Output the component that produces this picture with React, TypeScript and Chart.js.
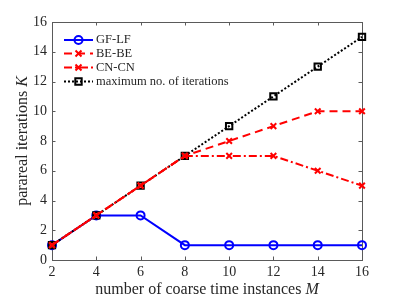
import React, { useEffect, useRef } from 'react';
import { Chart, registerables } from 'chart.js';
Chart.register(...registerables);

const M = [2, 4, 6, 8, 10, 12, 14, 16];
const gfLf = [1, 3, 3, 1, 1, 1, 1, 1];
const beBe = [1, 3, 5, 7, 8, 9, 10, 10];
const cnCn = [1, 3, 5, 7, 7, 7, 6, 5];
const maxIter = [1, 3, 5, 7, 9, 11, 13, 15];
const seriesNames = ['GF-LF', 'BE-BE', 'CN-CN', 'maximum no. of iterations'];
const xTickValues = [2, 4, 6, 8, 10, 12, 14, 16];
const yTickValues = [0, 2, 4, 6, 8, 10, 12, 14, 16];

const FONT = '"Liberation Serif", "DejaVu Serif", serif';
const AXIS = '#5a5a5a';
const TEXT = '#262626';

const styles = [
  { color: '#0000ff', dash: [] as number[], marker: 'circle' },
  { color: '#ff0000', dash: [8, 5], marker: 'crossRot' },
  { color: '#ff0000', dash: [8, 3, 2, 3], marker: 'crossRot' },
  { color: '#000000', dash: [2, 2], marker: 'rect' },
];

function drawMarker(ctx: CanvasRenderingContext2D, kind: string, x: number, y: number, color: string) {
  ctx.save();
  ctx.setLineDash([]);
  ctx.strokeStyle = color;
  ctx.lineWidth = 2;
  ctx.beginPath();
  if (kind === 'circle') {
    ctx.arc(x, y, 4, 0, Math.PI * 2);
  } else if (kind === 'crossRot') {
    const r = 3;
    ctx.moveTo(x - r, y - r); ctx.lineTo(x + r, y + r);
    ctx.moveTo(x + r, y - r); ctx.lineTo(x - r, y + r);
  } else {
    ctx.rect(x - 3.2, y - 3.2, 6.4, 6.4);
  }
  ctx.stroke();
  ctx.restore();
}

const framePlugin = {
  id: 'frame',
  beforeDatasetsDraw(chart: any) {
    const { ctx, chartArea: a, scales } = chart;
    ctx.save();
    ctx.strokeStyle = AXIS;
    ctx.lineWidth = 1;
    ctx.setLineDash([]);
    ctx.strokeRect(Math.round(a.left) + 0.5, Math.round(a.top) + 0.5, Math.round(a.right - a.left), Math.round(a.bottom - a.top));
    ctx.beginPath();
    const tl = 3.5;
    xTickValues.forEach((v) => {
      const px = Math.round(scales.x.getPixelForValue(v)) + 0.5;
      ctx.moveTo(px, a.bottom); ctx.lineTo(px, a.bottom - tl);
      ctx.moveTo(px, a.top); ctx.lineTo(px, a.top + tl);
    });
    yTickValues.forEach((v) => {
      const py = Math.round(scales.y.getPixelForValue(v)) + 0.5;
      ctx.moveTo(a.left, py); ctx.lineTo(a.left + tl, py);
      ctx.moveTo(a.right, py); ctx.lineTo(a.right - tl, py);
    });
    ctx.stroke();
    ctx.restore();
  },
  afterDraw(chart: any) {
    const { ctx, chartArea: a } = chart;
    const TF = 16;
    ctx.save();
    ctx.fillStyle = TEXT;
    ctx.textBaseline = 'middle';
    // x title
    const xMain = 'number of coarse time instances ';
    ctx.font = `${TF}px ${FONT}`;
    const w1 = ctx.measureText(xMain).width;
    ctx.font = `italic ${TF}px ${FONT}`;
    const w2 = ctx.measureText('M').width;
    const cx = (a.left + a.right) / 2;
    const sx = cx - (w1 + w2) / 2;
    ctx.textAlign = 'left';
    ctx.font = `${TF}px ${FONT}`;
    ctx.fillText(xMain, sx, 290);
    ctx.font = `italic ${TF}px ${FONT}`;
    ctx.fillText('M', sx + w1, 290);
    // y title
    const yMain = 'parareal iterations ';
    ctx.translate(23, (a.top + a.bottom) / 2);
    ctx.rotate(-Math.PI / 2);
    ctx.font = `${TF}px ${FONT}`;
    const v1 = ctx.measureText(yMain).width;
    ctx.font = `italic ${TF}px ${FONT}`;
    const v2 = ctx.measureText('K').width;
    const sy = -(v1 + v2) / 2;
    ctx.font = `${TF}px ${FONT}`;
    ctx.fillText(yMain, sy, 0);
    ctx.font = `italic ${TF}px ${FONT}`;
    ctx.fillText('K', sy + v1, 0);
    ctx.restore();

    // legend
    ctx.save();
    const ys = [40, 53.5, 67.5, 81.5];
    seriesNames.forEach((name, i) => {
      const s = styles[i];
      const y = ys[i];
      ctx.strokeStyle = s.color;
      ctx.lineWidth = 2;
      ctx.setLineDash(s.dash);
      ctx.beginPath();
      ctx.moveTo(64, y); ctx.lineTo(93, y);
      ctx.stroke();
      drawMarker(ctx, s.marker, 78.5, y, s.color);
      ctx.fillStyle = TEXT;
      ctx.font = `12.5px ${FONT}`;
      ctx.textAlign = 'left';
      ctx.textBaseline = 'middle';
      ctx.fillText(name, 96, y);
    });
    ctx.restore();
  },
};

export default function App() {
  const ref = useRef<HTMLCanvasElement>(null);
  useEffect(() => {
    document.body.style.margin = '0';
    const series = [gfLf, beBe, cnCn, maxIter];
    const orders = [3, 1, 0, 2];
    const chart = new Chart(ref.current!, {
      type: 'line',
      data: {
        datasets: series.map((vals, i) => ({
          label: seriesNames[i],
          data: M.map((m, j) => ({ x: m, y: vals[j] })),
          borderColor: styles[i].color,
          backgroundColor: 'rgba(0,0,0,0)',
          borderWidth: 2,
          borderDash: styles[i].dash,
          pointStyle: styles[i].marker as any,
          pointRadius: styles[i].marker === 'rect' ? 4.5 : 4,
          pointBorderWidth: 2,
          pointBorderColor: styles[i].color,
          pointBackgroundColor: 'rgba(0,0,0,0)',
          tension: 0,
          clip: false as any,
          order: orders[i],
        })),
      },
      options: {
        animation: false,
        responsive: false,
        layout: { padding: { top: 22, right: 37, left: 0, bottom: 0 } },
        plugins: { legend: { display: false }, tooltip: { enabled: false } },
        scales: {
          x: {
            type: 'linear',
            min: 2,
            max: 16,
            afterFit: (s: any) => { s.height = 39; },
            afterBuildTicks: (s: any) => { s.ticks = xTickValues.map((v) => ({ value: v })); },
            grid: { display: false, drawTicks: false },
            border: { display: false },
            ticks: { color: TEXT, font: { family: FONT, size: 14 }, padding: 4, maxRotation: 0 },
          },
          y: {
            type: 'linear',
            min: 0,
            max: 16,
            afterFit: (s: any) => { s.width = 52; },
            afterBuildTicks: (s: any) => { s.ticks = yTickValues.map((v) => ({ value: v })); },
            grid: { display: false, drawTicks: false },
            border: { display: false },
            ticks: { color: TEXT, font: { family: FONT, size: 14 }, padding: 5 },
          },
        },
      },
      plugins: [framePlugin],
    });
    return () => chart.destroy();
  }, []);
  return <canvas ref={ref} width={399} height={299} style={{ display: 'block' }} />;
}
